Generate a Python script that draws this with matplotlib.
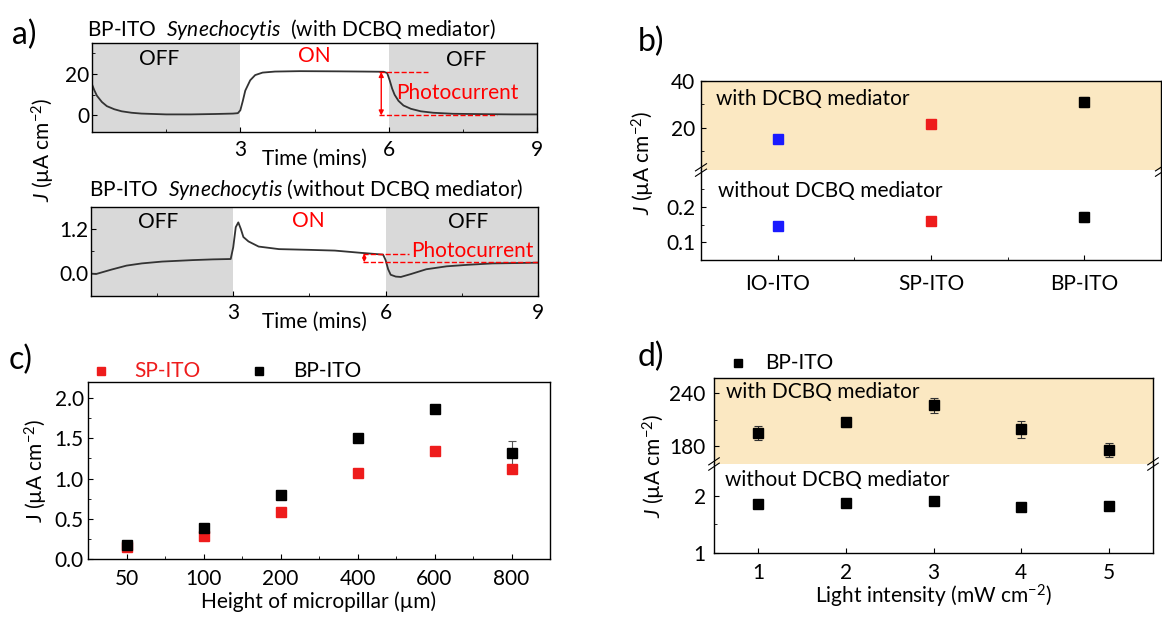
import matplotlib.pyplot as plt
from matplotlib.ticker import MultipleLocator, FixedLocator

plt.rcParams['font.family'] = ['Lato', 'DejaVu Sans']
plt.rcParams['mathtext.fontset'] = 'custom'
plt.rcParams['mathtext.rm'] = 'Lato'
plt.rcParams['mathtext.it'] = 'Lato:italic'
plt.rcParams['font.size'] = 15
plt.rcParams['xtick.direction'] = 'in'
plt.rcParams['ytick.direction'] = 'in'
plt.rcParams['axes.linewidth'] = 1.0

# ---- data ----
# a) chronoamperometry, with mediator
a_top_t = [0, 0.05, 0.1, 0.2, 0.3, 0.45, 0.6, 0.8, 1.0, 1.5, 2.0, 2.5, 2.85, 2.95,
           3.0, 3.05, 3.1, 3.2, 3.3, 3.45, 3.7, 4.2, 5.0, 5.5, 5.9, 5.97, 6.02,
           6.07, 6.12, 6.2, 6.3, 6.45, 6.65, 6.9, 7.3, 8.0, 8.5, 9.0]
a_top_j = [15, 12, 9.5, 6.5, 4.5, 3, 2, 1.3, 0.9, 0.5, 0.5, 0.7, 0.9, 1.1,
           2.5, 7, 12, 17, 19.5, 20.7, 21.2, 21.4, 21.3, 21.2, 21.1, 20.5, 17,
           13, 10, 7, 4.8, 3.2, 2, 1.3, 0.8, 0.6, 0.5, 0.5]
# a) without mediator
a_bot_t = [0.2, 0.3, 0.45, 0.6, 0.9, 1.2, 1.6, 2.2, 2.6, 2.95, 3.0, 3.05, 3.1,
           3.15, 3.2, 3.3, 3.5, 3.9, 4.5, 5.0, 5.5, 5.95, 6.0, 6.05, 6.1, 6.2,
           6.3, 6.5, 6.8, 7.2, 7.6, 8.1, 8.6, 9.0]
a_bot_j = [-0.02, -0.03, 0.03, 0.09, 0.2, 0.26, 0.31, 0.35, 0.37, 0.38, 0.7,
           1.25, 1.38, 1.2, 0.98, 0.86, 0.72, 0.65, 0.63, 0.61, 0.55, 0.50, 0.35,
           0.1, -0.05, -0.1, -0.11, -0.03, 0.1, 0.18, 0.22, 0.26, 0.27, 0.28]

# b) electrode comparison
b_labels = ['IO-ITO', 'SP-ITO', 'BP-ITO']
b_colors = ['#1a1aff', '#ee1c1c', 'black']
b_with = [15.3, 21.5, 31.0]
b_with_err = [0.6, 1.5, 2.0]
b_without = [0.147, 0.160, 0.172]
b_without_err = [0.004, 0.008, 0.015]

# c) micropillar height
c_heights = ['50', '100', '200', '400', '600', '800']
c_sp = [0.15, 0.28, 0.59, 1.07, 1.34, 1.12]
c_sp_err = [0.02, 0.02, 0.02, 0.02, 0.02, 0.03]
c_bp = [0.17, 0.38, 0.79, 1.50, 1.87, 1.32]
c_bp_err = [0.03, 0.03, 0.04, 0.04, 0.04, 0.15]

# d) light intensity
d_light = [1, 2, 3, 4, 5]
d_with = [195, 207, 226, 199, 176]
d_with_err = [8, 5, 9, 10, 8]
d_without = [1.865, 1.877, 1.92, 1.80, 1.82]
d_without_err = [0.02, 0.02, 0.02, 0.02, 0.02]

W, H = 1162, 617
fig = plt.figure(figsize=(W / 100, H / 100), dpi=100)


def add_px(l, t, r, b):
    return fig.add_axes([l / W, 1 - b / H, (r - l) / W, (b - t) / H])


def ftext(x, y, s, **kw):
    fig.text(x / W, 1 - y / H, s, **kw)


OFFGRAY = '#d9d9d9'
ORANGE = '#fbe8c2'
JLAB = r'$J$ (µA cm$^{-2}$)'


def break_marks(ax_bot):
    d = 0.012
    for x in (0, 1):
        for off in (-0.03, 0.03):
            ax_bot.plot([x - d, x + d], [1 + off - 0.04, 1 + off + 0.04],
                        transform=ax_bot.transAxes, color='k', lw=0.8,
                        clip_on=False)


# ===== a) =====
axa1 = add_px(92, 43, 537, 132)
axa1.axvspan(0, 3, color=OFFGRAY, lw=0)
axa1.axvspan(6, 9, color=OFFGRAY, lw=0)
axa1.plot(a_top_t, a_top_j, color='#333333', lw=1.3)
axa1.set_xlim(0, 9)
axa1.set_ylim(-8, 35)
axa1.xaxis.set_major_locator(FixedLocator([3, 6, 9]))
axa1.xaxis.set_minor_locator(FixedLocator([1.5, 4.5, 7.5]))
axa1.yaxis.set_major_locator(FixedLocator([0, 20]))
axa1.yaxis.set_minor_locator(FixedLocator([10, 30]))
axa1.tick_params(axis='x', pad=6)
axa1.tick_params(axis='y', pad=2)
axa1.set_xlabel('Time (mins)', labelpad=-8)
axa1.text(1.36, 27.3, 'OFF', ha='center', va='center')
axa1.text(4.5, 28.8, 'ON', ha='center', va='center', color='red')
axa1.text(7.57, 26.8, 'OFF', ha='center', va='center')
axa1.plot([5.8, 6.8], [21, 21], color='red', ls='--', lw=1)
axa1.plot([5.8, 8.2], [0, 0], color='red', ls='--', lw=1)
axa1.annotate('', xy=(5.85, 21), xytext=(5.85, 0),
              arrowprops=dict(arrowstyle='<|-|>', color='red', lw=1,
                              mutation_scale=7, shrinkA=0, shrinkB=0))
axa1.text(6.15, 10.9, 'Photocurrent', color='red', va='center')
ftext(87, 29, r'BP-ITO  $\mathit{Synechocytis}$  (with DCBQ mediator)',
      va='center')

axa2 = add_px(91, 207, 538, 296)
axa2.axvspan(0, 3, color=OFFGRAY, lw=0)
axa2.axvspan(6, 9, color=OFFGRAY, lw=0)
axa2.plot(a_bot_t, a_bot_j, color='#333333', lw=1.3)
axa2.set_xlim(0.2, 9)
axa2.set_ylim(-0.63, 1.8)
axa2.xaxis.set_major_locator(FixedLocator([3, 6, 9]))
axa2.xaxis.set_minor_locator(FixedLocator([1.5, 4.5, 7.5]))
axa2.yaxis.set_major_locator(FixedLocator([0, 1.2]))
axa2.yaxis.set_minor_locator(FixedLocator([0.6]))
axa2.set_yticklabels(['0.0', '1.2'])
axa2.tick_params(axis='x', pad=5)
axa2.tick_params(axis='y', pad=2)
axa2.set_xlabel('Time (mins)', labelpad=-8)
axa2.text(1.52, 1.4, 'OFF', ha='center', va='center')
axa2.text(4.47, 1.42, 'ON', ha='center', va='center', color='red')
axa2.text(7.62, 1.4, 'OFF', ha='center', va='center')
axa2.plot([5.55, 6.47], [0.53, 0.53], color='red', ls='--', lw=1)
axa2.plot([5.55, 9.0], [0.29, 0.29], color='red', ls='--', lw=1)
axa2.annotate('', xy=(5.58, 0.53), xytext=(5.58, 0.29),
              arrowprops=dict(arrowstyle='<|-|>', color='red', lw=1,
                              mutation_scale=5, shrinkA=0, shrinkB=0))
axa2.text(6.5, 0.59, 'Photocurrent', color='red', va='center')
ftext(89, 190, r'BP-ITO  $\mathit{Synechocytis}$ (without DCBQ mediator)',
      va='center')

ftext(43, 150, JLAB, rotation=90, ha='center', va='center')
ftext(24, 35, 'a)', fontsize=23, ha='center', va='center')

# ===== b) =====
bx = [1, 2, 3]
axb1 = add_px(701, 81, 1161, 170)
axb2 = add_px(701, 170, 1161, 260)
axb1.set_facecolor(ORANGE)
for i in range(3):
    axb1.errorbar(bx[i], b_with[i], yerr=b_with_err[i], fmt='s',
                  color=b_colors[i], ecolor='#333333', ms=6.5, capsize=3,
                  elinewidth=0.8, capthick=0.8)
    axb2.errorbar(bx[i], b_without[i], yerr=b_without_err[i], fmt='s',
                  color=b_colors[i], ecolor='#333333', ms=6.5, capsize=3,
                  elinewidth=0.8, capthick=0.8)
for ax in (axb1, axb2):
    ax.set_xlim(0.5, 3.5)
    ax.xaxis.set_major_locator(FixedLocator(bx))
    ax.xaxis.set_minor_locator(FixedLocator([1.5, 2.5]))
    ax.tick_params(axis='y', pad=4)
axb1.set_ylim(2, 40)
axb1.yaxis.set_major_locator(FixedLocator([20, 40]))
axb1.yaxis.set_minor_locator(FixedLocator([10, 30]))
axb1.spines['bottom'].set_visible(False)
axb1.tick_params(axis='x', which='both', bottom=False, labelbottom=False)
axb2.set_ylim(0.05, 0.305)
axb2.yaxis.set_major_locator(FixedLocator([0.1, 0.2]))
axb2.yaxis.set_minor_locator(FixedLocator([0.15, 0.25]))
axb2.spines['top'].set_visible(False)
axb2.set_xticklabels(b_labels)
axb2.tick_params(axis='x', pad=10)
break_marks(axb2)
ftext(716, 99, 'with DCBQ mediator', va='center')
ftext(718, 191, 'without DCBQ mediator', va='center')
ftext(643, 163, JLAB, rotation=90, ha='center', va='center')
ftext(651, 42, 'b)', fontsize=23, ha='center', va='center')

# ===== c) =====
cx = list(range(1, len(c_heights) + 1))
axc = add_px(88, 382, 550, 559)
axc.errorbar(cx, c_sp, yerr=c_sp_err, fmt='s', color='#ee1c1c',
             ecolor='#999999', ms=6.5, capsize=3, elinewidth=0.8,
             capthick=0.8)
axc.errorbar(cx, c_bp, yerr=c_bp_err, fmt='s', color='black',
             ecolor='#555555', ms=6.5, capsize=3, elinewidth=0.8,
             capthick=0.8)
axc.set_xlim(0.5, 6.5)
axc.set_ylim(0, 2.2)
axc.xaxis.set_major_locator(FixedLocator(cx))
axc.xaxis.set_minor_locator(FixedLocator([x + 0.5 for x in cx[:-1]]))
axc.set_xticklabels(c_heights)
axc.yaxis.set_major_locator(MultipleLocator(0.5))
axc.yaxis.set_minor_locator(MultipleLocator(0.25))
axc.yaxis.set_major_formatter(plt.FormatStrFormatter('%.1f'))
axc.tick_params(axis='x', pad=7)
axc.tick_params(axis='y', pad=3)
axc.set_xlabel('Height of micropillar (µm)', labelpad=2)
ftext(36, 471, r'J (µA cm$^{-2}$)', rotation=90, ha='center', va='center')
ftext(21, 360, 'c)', fontsize=23, ha='center', va='center')
# legend drawn by hand
fig.lines.append(plt.Line2D([101 / W], [1 - 371 / H], marker='s', ms=6,
                            color='#ee1c1c', transform=fig.transFigure))
fig.lines.append(plt.Line2D([259 / W], [1 - 371 / H], marker='s', ms=6,
                            color='black', transform=fig.transFigure))
ftext(134, 371, 'SP-ITO', color='#ee1c1c', va='center')
ftext(293, 371, 'BP-ITO', va='center')

# ===== d) =====
axd1 = add_px(714, 378, 1153, 464)
axd2 = add_px(714, 464, 1153, 553)
axd1.set_facecolor(ORANGE)
axd1.errorbar(d_light, d_with, yerr=d_with_err, fmt='s', color='black',
              ecolor='#333333', ms=6.5, capsize=3, elinewidth=0.8,
              capthick=0.8)
axd2.errorbar(d_light, d_without, yerr=d_without_err, fmt='s',
              color='black', ecolor='#333333', ms=6.5, capsize=3,
              elinewidth=0.8, capthick=0.8)
for ax in (axd1, axd2):
    ax.set_xlim(0.5, 5.5)
    ax.xaxis.set_major_locator(FixedLocator(d_light))
    ax.xaxis.set_minor_locator(FixedLocator([]))
    ax.tick_params(axis='y', pad=6)
axd1.set_ylim(160, 257)
axd1.yaxis.set_major_locator(FixedLocator([180, 240]))
axd1.yaxis.set_minor_locator(FixedLocator([210]))
axd1.spines['bottom'].set_visible(False)
axd1.tick_params(axis='x', which='both', bottom=False, labelbottom=False)
axd2.set_ylim(1, 2.56)
axd2.yaxis.set_major_locator(FixedLocator([1, 2]))
axd2.yaxis.set_minor_locator(FixedLocator([1.5]))
axd2.spines['top'].set_visible(False)
axd2.tick_params(axis='x', pad=7)
axd2.set_xlabel(r'Light intensity (mW cm$^{-2}$)', labelpad=0)
break_marks(axd2)
ftext(726, 392, 'with DCBQ mediator', va='center')
ftext(725, 480, 'without DCBQ mediator', va='center')
ftext(654, 466, JLAB, rotation=90, ha='center', va='center')
ftext(651, 357, 'd)', fontsize=23, ha='center', va='center')
fig.lines.append(plt.Line2D([738 / W], [1 - 363 / H], marker='s', ms=6,
                            color='black', transform=fig.transFigure))
ftext(765, 363, 'BP-ITO', va='center')

plt.savefig('out.png', dpi=100)
